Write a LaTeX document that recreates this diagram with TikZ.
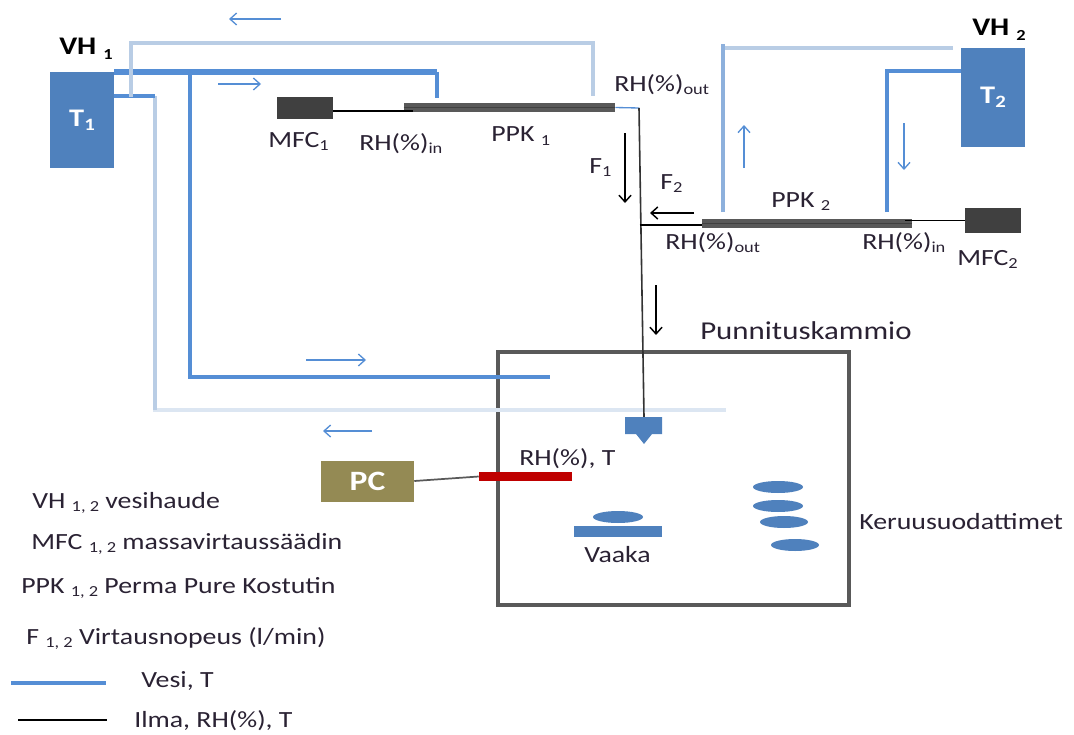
\documentclass[tikz,border=0pt]{standalone}
\usepackage{fontspec}
\setmainfont[FakeStretch=1.2]{Carlito}
\usetikzlibrary{arrows.meta,shapes.geometric}
\definecolor{wblue}{HTML}{558ED5}
\definecolor{lblue}{HTML}{B9CDE5}
\definecolor{pblue}{HTML}{DCE6F2}
\definecolor{mblue}{HTML}{8DB0DC}
\definecolor{fblue}{HTML}{4F81BD}
\definecolor{dgray}{HTML}{404040}
\definecolor{mgray}{HTML}{595959}
\definecolor{txt}{HTML}{2A2233}
\definecolor{pcol}{HTML}{948A54}
\newcommand{\lsub}[1]{\raisebox{-0.35ex}{\fontsize{11.5}{12}\selectfont #1}}
\newcommand{\tsub}[1]{\raisebox{-0.35ex}{\fontsize{13}{14}\selectfont #1}}
\tikzset{
  x=0.75pt,y=-0.75pt,
  lab/.style={inner sep=0pt,anchor=base west,text=txt,font=\fontsize{17.4}{20}\selectfont},
  leg/.style={lab},
  head/.style={lab,text=black,font=\bfseries\fontsize{19}{20}\selectfont},
  bath/.style={draw=none,fill=fblue,inner sep=0pt,text=white,font=\bfseries\fontsize{19}{20}\selectfont},
  mfc/.style={draw=none,fill=dgray,inner sep=0pt},
  ppk/.style={draw=none,fill=mgray,inner sep=0pt},
  filt/.style={ellipse,fill=fblue,draw=none,inner sep=0pt},
  water/.style={draw=wblue,line width=3pt,line cap=butt,line join=miter},
  ret/.style={draw=lblue,line width=2.6pt,line join=miter},
  air/.style={draw=black,line width=1.2pt},
  flowb/.style={draw=wblue,line width=1pt,-{Straight Barb[length=5pt,width=9pt,line width=1pt]}},
  flowk/.style={draw=black,line width=1.1pt,-{Straight Barb[length=5pt,width=9pt,line width=1.1pt]}},
}
\begin{document}
\begin{tikzpicture}
\useasboundingbox (0,0) rectangle (1074,735);
% boxes
\node[bath,minimum width=48pt,minimum height=72pt] (t1) at (82,120) {T\tsub{1}};
\node[bath,minimum width=48pt,minimum height=74.25pt] (t2) at (993,97.5) {T\tsub{2}};
\node[mfc,minimum width=42pt,minimum height=16.5pt] (mfc1) at (305,108) {};
\node[mfc,minimum width=42pt,minimum height=18.75pt] (mfc2) at (993,220.5) {};
\node[ppk,minimum width=158.25pt,minimum height=6.75pt] (ppk1) at (509.5,107.5) {};
\node[ppk,minimum width=157.5pt,minimum height=6.75pt] (ppk2) at (807,223.5) {};
\draw[black!75,line width=1.1pt] (ppk1.west) -- (ppk1.east);
\draw[black!75,line width=1.1pt] (ppk2.west) -- (ppk2.east);
\node[draw=mgray,line width=2.7pt,minimum width=263.25pt,minimum height=189.75pt,inner sep=0pt] (room) at (673.5,478.5) {};
% water loops of bath 1
\coordinate (a1) at (114,72);
\coordinate (a2) at (437,72);
\coordinate (a3) at (437,98);
\coordinate (b1) at (190,72);
\coordinate (b2) at (190,377);
\coordinate (b3) at (550,377);
\coordinate (c1) at (114,96);
\coordinate (c2) at (155,96);
\coordinate (c3) at (155,410);
\coordinate (c4) at (724,410);
\coordinate (d1) at (131,97);
\coordinate (d2) at (131,43);
\coordinate (d3) at (593,43);
\coordinate (d4) at (593,96);
\draw[draw=pblue,line width=2.6pt,line cap=rect] (c3) -- (c4);
\draw[ret] (c2) -- (c3);
\draw[water,line width=3.8pt] (a1) -- (a2);
\draw[water] (b1) -- (b2) -- (b3);
\draw[water] (a2) -- (a3);
\draw[water] (c1) -- (c2);
\draw[ret] (d1) -- (d2) -- (d3) -- (d4);
% water loops of bath 2
\coordinate (e1) at (723,212);
\coordinate (e2) at (723,44);
\coordinate (e3) at (723,48);
\coordinate (e4) at (953,48);
\coordinate (f1) at (887,212);
\coordinate (f2) at (887,71);
\coordinate (f3) at (961,71);
\draw[ret] (e3) -- (e4);
\draw[draw=mblue,line width=3pt] (e1) -- (e2);
\draw[water] (f1) -- (f2) -- (f3);
% air
\coordinate (g1) at (639,108);
\coordinate (g2) at (644,417);
\coordinate (g3) at (639.5,225);
\draw[air] (mfc1.east) ++(0,3) -- ++(80,0);
\draw[draw=wblue,line width=1pt] (ppk1.east) -- (g1);
\draw[air,draw=black!80] (g1) -- (g2);
\draw[air] (g3) -- (ppk2.west |- g3);
\draw[air] (mfc2.west) -- (905,220.5);
% nozzle, balance, filters
\fill[fblue] (625,417) -- (662,417) -- (662,434) -- (652,434) -- (644,444) -- (636,434) -- (625,434) -- cycle;
\node[fill=fblue,draw=none,minimum width=66pt,minimum height=8.25pt,inner sep=0pt] (plate) at (618,531.5) {};
\node[filt,minimum width=37.5pt,minimum height=9pt] (e0) at (618,517) {};
\node[filt,minimum width=37.5pt,minimum height=9pt] (e5) at (778,487) {};
\node[filt,minimum width=37.5pt,minimum height=9pt] (e6) at (778,506) {};
\node[filt,minimum width=36pt,minimum height=9pt] (e7) at (784,522) {};
\node[filt,minimum width=36pt,minimum height=9pt] (e8) at (795,545) {};
% sensor and PC
\node[fill=pcol,draw=none,text=white,inner sep=0pt,minimum width=69.75pt,minimum height=30.75pt,font=\bfseries\fontsize{21}{22}\selectfont] (pc) at (367.5,481) {PC};
\node[fill=red!75!black,draw=none,inner sep=0pt,minimum width=69.75pt,minimum height=6.75pt] (sens) at (525.5,476.5) {};
\draw[draw=mgray,line width=1.3pt] (pc.east) -- (sens.west);
% flow arrows
\coordinate (h1) at (281,19); \coordinate (h2) at (229,19);
\coordinate (h3) at (218,84); \coordinate (h4) at (261,84);
\coordinate (h5) at (744,168); \coordinate (h6) at (744,125);
\coordinate (h7) at (904,123); \coordinate (h8) at (904,170);
\coordinate (h9) at (306,360); \coordinate (h10) at (366,360);
\coordinate (h11) at (372,431); \coordinate (h12) at (323,431);
\coordinate (k1) at (625,133); \coordinate (k2) at (625,203);
\coordinate (k3) at (694,213); \coordinate (k4) at (650,213);
\coordinate (k5) at (656,285); \coordinate (k6) at (656,335);
\draw[flowb] (h1) -- (h2);
\draw[flowb] (h3) -- (h4);
\draw[flowb] (h5) -- (h6);
\draw[flowb] (h7) -- (h8);
\draw[flowb] (h9) -- (h10);
\draw[flowb] (h11) -- (h12);
\draw[flowk] (k1) -- (k2);
\draw[flowk] (k3) -- (k4);
\draw[flowk] (k5) -- (k6);
% labels
\node[head] (l1) at (59,55) {VH \lsub{1}};
\node[head] (l2) at (972,36) {VH \lsub{2}};
\node[lab] (l3) at (268,147) {MFC\lsub{1}};
\node[lab] (l4) at (359,150) {RH(\%)\lsub{in}};
\node[lab] (l5) at (491,142) {PPK \lsub{1}};
\node[lab] (l6) at (614,91) {RH(\%)\lsub{out}};
\node[lab] (l7) at (589,173) {F\lsub{1}};
\node[lab] (l8) at (660,189) {F\lsub{2}};
\node[lab] (l9) at (771,207) {PPK \lsub{2}};
\node[lab] (l10) at (665,249) {RH(\%)\lsub{out}};
\node[lab] (l11) at (862,249) {RH(\%)\lsub{in}};
\node[lab] (l12) at (957,265) {MFC\lsub{2}};
\node[lab,font=\fontsize{19.3}{22}\selectfont] (l13) at (700,339) {Punnituskammio};
\node[lab] (l14) at (519,465) {RH(\%), T};
\node[lab] (l15) at (584,562) {Vaaka};
\node[lab] (l16) at (859,529) {Keruusuodattimet};
\node[leg] (l17) at (32,508) {VH \lsub{1, 2} vesihaude};
\node[leg] (l18) at (31,549) {MFC \lsub{1, 2} massavirtaussäädin};
\node[leg] (l19) at (21,593) {PPK \lsub{1, 2} Perma Pure Kostutin};
\node[leg] (l20) at (26,644) {F \lsub{1, 2} Virtausnopeus (l/min)};
\node[leg] (l21) at (141,687) {Vesi, T};
\node[leg] (l22) at (134,727) {Ilma, RH(\%), T};
% legend lines
\coordinate (m1) at (11,683); \coordinate (m2) at (106,683);
\coordinate (m3) at (18,720); \coordinate (m4) at (107,720);
\draw[water] (m1) -- (m2);
\draw[air] (m3) -- (m4);
\end{tikzpicture}
\end{document}
